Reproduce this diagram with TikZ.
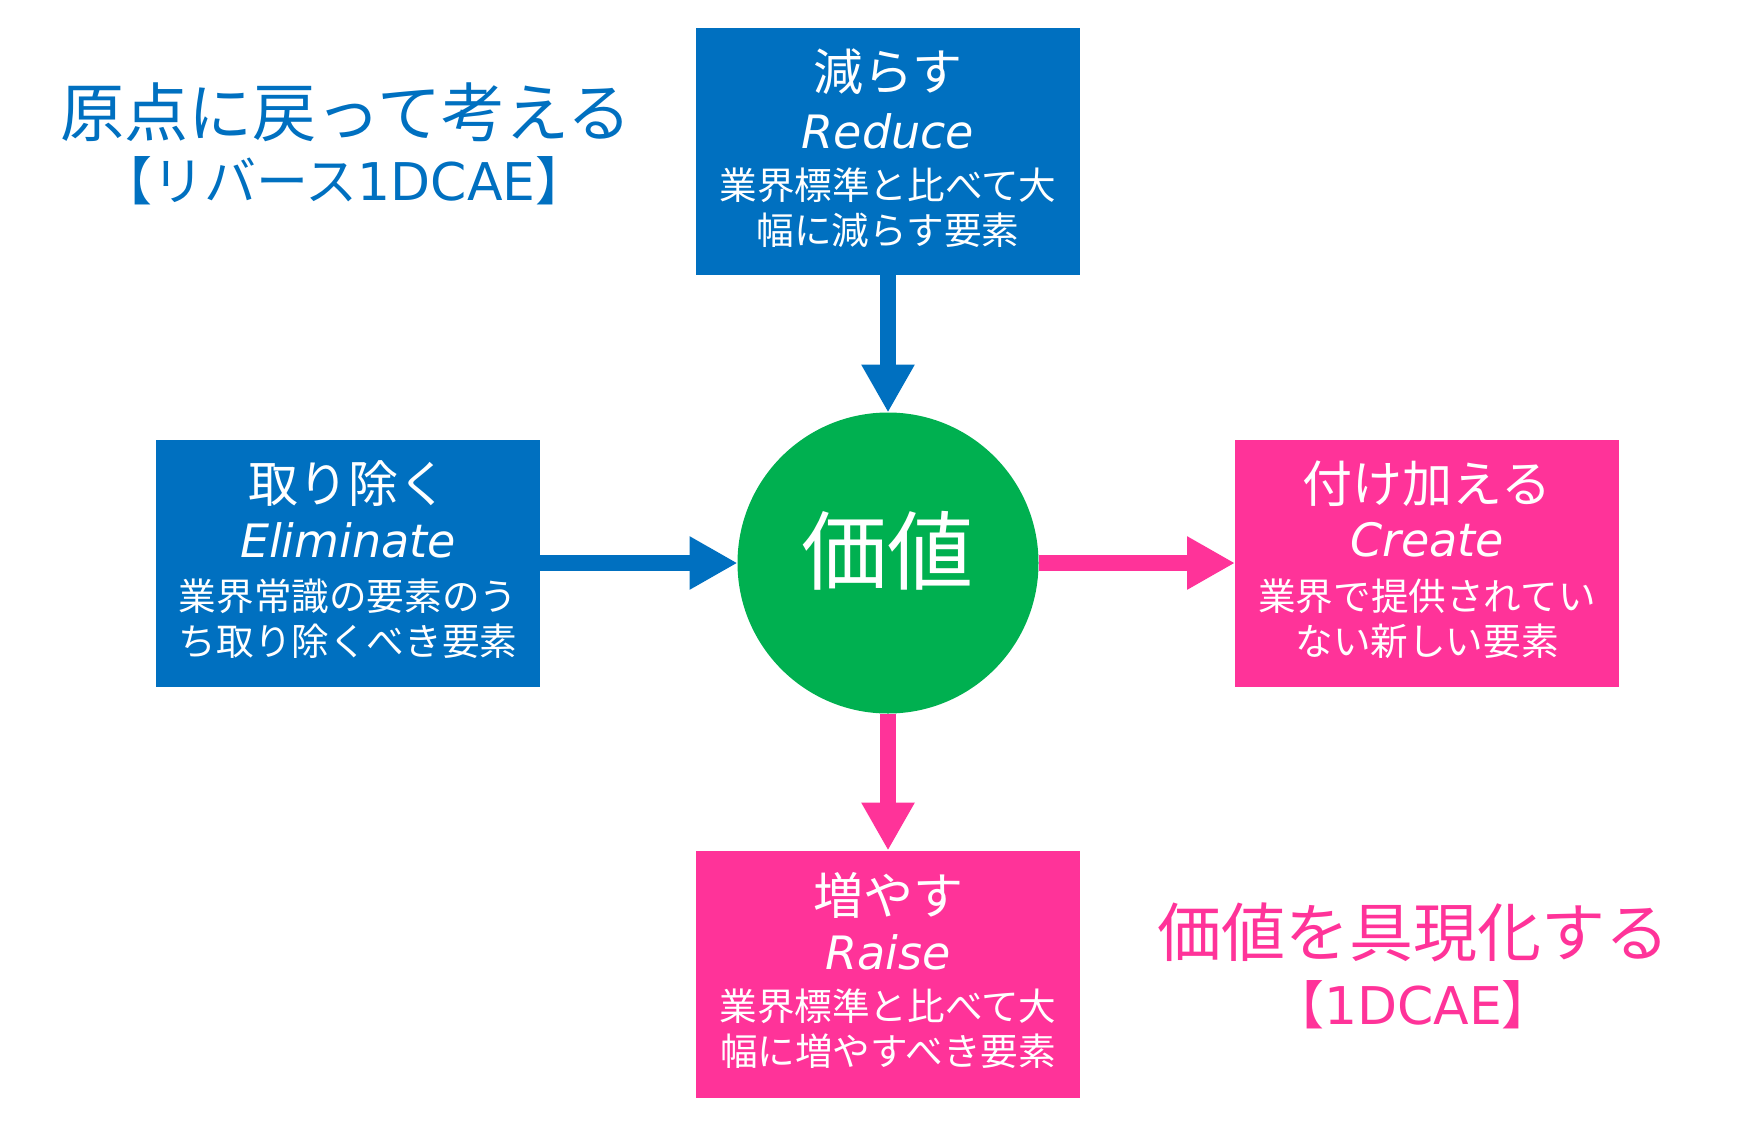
\documentclass[tikz,border=0pt]{standalone}
\usepackage{fontspec}
\setmainfont{Noto Sans CJK JP}
\newfontfamily\latf{DejaVu Sans}
\usetikzlibrary{arrows.meta}
\definecolor{cblue}{HTML}{0070C0}
\definecolor{cpink}{HTML}{FF3399}
\definecolor{cgreen}{HTML}{00B050}
\begin{document}
\begin{tikzpicture}[x=1pt,y=-1pt,
  box/.style={minimum width=384pt,minimum height=247pt,inner sep=0pt,outer sep=0pt},
  bluebox/.style={box,fill=cblue},
  pinkbox/.style={box,fill=cpink},
  ttl/.style={text=white,font={\fontsize{50}{50}\selectfont},inner sep=0pt},
  eng/.style={text=white,font={\latf\itshape\fontsize{46}{46}\selectfont},inner sep=0pt},
  desc/.style={text=white,font={\fontsize{37.6}{37.6}\selectfont},inner sep=0pt},
  conn/.style={line width=16pt,-{Triangle[length=48pt,width=50pt]}},
  bigtitle/.style={font={\fontsize{64}{64}\selectfont},inner sep=0pt},
  subtitle/.style={font={\fontsize{52}{52}\selectfont},inner sep=0pt},
]
\useasboundingbox (0,0) rectangle (1755,1127);

% boxes
\node[bluebox] (top) at (888,151.5) {};
\node[bluebox] (left) at (348,563) {};
\node[pinkbox] (right) at (1427,563) {};
\node[pinkbox] (bot) at (888,974) {};
\node[circle,fill=cgreen,minimum size=301pt,inner sep=0pt,outer sep=0pt] (c) at (888,563) {};

% connectors
\draw[conn,cblue] (top.south) -- (c.north);
\draw[conn,cblue] (left.east) -- (c.west);
\draw[conn,cpink] (c.east) -- (right.west);
\draw[conn,cpink] (c.south) -- (bot.north);

% circle text
\node[text=white,font={\fontsize{86}{86}\selectfont},inner sep=0pt] (ct) at (887,551) {価値};

% top box
\node[ttl]  (t1) at (888,72)  {減らす};
\node[eng]  (t2) at (888,131) {Reduce};
\node[desc] (t3) at (888,185) {業界標準と比べて大};
\node[desc] (t4) at (888,230) {幅に減らす要素};

% left box
\node[ttl]  (l1) at (348,484) {取り除く};
\node[eng]  (l2) at (348,540) {Eliminate};
\node[desc] (l3) at (348,596) {業界常識の要素のう};
\node[desc] (l4) at (348,641) {ち取り除くべき要素};

% right box
\node[ttl]  (r1) at (1427,484) {付け加える};
\node[eng]  (r2) at (1427,540) {Create};
\node[desc] (r3) at (1427,596) {業界で提供されてい};
\node[desc] (r4) at (1427,641) {ない新しい要素};

% bottom box
\node[ttl]  (b1) at (888,895) {増やす};
\node[eng]  (b2) at (888,952) {Raise};
\node[desc] (b3) at (888,1006) {業界標準と比べて大};
\node[desc] (b4) at (888,1051) {幅に増やすべき要素};

% titles
\node[bigtitle,text=cblue] (h1) at (346,112) {原点に戻って考える};
\node[subtitle,text=cblue] (h2) at (344,181) {【リバース{\latf 1DCAE}】};
\node[bigtitle,text=cpink] (h3) at (1413,932) {価値を具現化する};
\node[subtitle,text=cpink] (h4) at (1413,1005) {【{\latf 1DCAE}】};
\end{tikzpicture}
\end{document}
